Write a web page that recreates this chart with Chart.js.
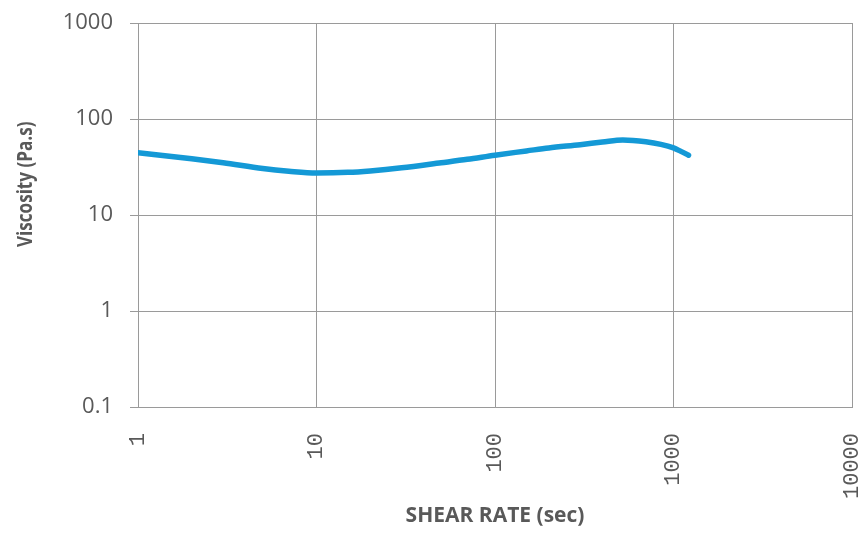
<!DOCTYPE html>
<html>
<head>
<meta charset="utf-8">
<script src="https://cdn.jsdelivr.net/npm/chart.js@4.4.1/dist/chart.umd.min.js"></script>
<style>
  html, body { margin: 0; padding: 0; background: #ffffff; }
  #wrap { width: 866px; height: 533px; position: relative; }
</style>
</head>
<body>
<div id="wrap"><canvas id="chart" width="866" height="533"></canvas></div>
<script>
// Shear rate (1/s) and measured viscosity (Pa.s)
const shearRate = [1, 2, 3, 5, 7, 10, 15, 20, 30, 50, 70, 100, 150, 200, 300, 400, 520, 700, 850, 1000, 1100, 1214];
const viscosity = [44.5, 38.5, 35, 30.5, 28.6, 27.4, 27.8, 28.8, 31, 35, 38, 42, 46.5, 50, 54, 57.5, 60.5, 58, 54.5, 50, 46, 42];

// Decade tick positions for both log axes
const xTicks = [1, 10, 100, 1000, 10000];
const xTickLabels = ['1', '10', '100', '1000', '10000'];
const yTicks = [0.1, 1, 10, 100, 1000];
const yTickLabels = ['0.1', '1', '10', '100', '1000'];

const xTitle = 'SHEAR RATE (sec)';
const yTitle = 'Viscosity (Pa.s)';

const points = shearRate.map((x, i) => ({ x: x, y: viscosity[i] }));

const gridColor = '#9a9a9a';
const textColor = '#595959';

// Vertical axis title, placed a little above the plot's vertical centre
const yTitlePlugin = {
  id: 'yTitle',
  afterDraw(chart) {
    const ctx = chart.ctx;
    const area = chart.chartArea;
    ctx.save();
    ctx.translate(26, area.top + (area.bottom - area.top) * 0.42);
    ctx.rotate(-Math.PI / 2);
    ctx.fillStyle = textColor;
    ctx.font = 'bold 19px "Open Sans"';
    ctx.textAlign = 'center';
    ctx.textBaseline = 'middle';
    ctx.scale(0.9, 1.08);
    ctx.fillText(yTitle, 0, 0);
    ctx.restore();
  }
};

new Chart(document.getElementById('chart'), {
  type: 'line',
  data: {
    datasets: [{
      data: points,
      borderColor: '#1499d6',
      borderWidth: 5.5,
      pointRadius: 0,
      fill: false,
      cubicInterpolationMode: 'monotone',
      borderCapStyle: 'round'
    }]
  },
  plugins: [yTitlePlugin],
  options: {
    responsive: false,
    animation: false,
    devicePixelRatio: 1,
    layout: { padding: { left: 0, right: 14, top: 23, bottom: 0 } },
    plugins: { legend: { display: false }, tooltip: { enabled: false } },
    scales: {
      x: {
        type: 'logarithmic',
        min: 1,
        max: 10000,
        afterBuildTicks: (scale) => { scale.ticks = xTicks.map(v => ({ value: v })); },
        afterFit: (scale) => { scale.height = 126; scale.paddingLeft = 0; scale.paddingRight = 0; },
        grid: { color: gridColor, lineWidth: 1, drawTicks: false },
        border: { color: gridColor, width: 1 },
        ticks: {
          minRotation: 90,
          maxRotation: 90,
          autoSkip: false,
          padding: 26,
          color: textColor,
          font: { family: 'Liberation Mono', size: 22 },
          callback: (v) => xTickLabels[xTicks.indexOf(v)]
        },
        title: {
          display: true,
          text: xTitle,
          color: textColor,
          font: { family: 'Open Sans', size: 21, weight: 'bold' },
          padding: { top: 0, bottom: 4 }
        }
      },
      y: {
        type: 'logarithmic',
        min: 0.1,
        max: 1000,
        afterBuildTicks: (scale) => { scale.ticks = yTicks.map(v => ({ value: v })); },
        afterFit: (scale) => { scale.width = 138; scale.paddingTop = 0; scale.paddingBottom = 0; },
        grid: { color: gridColor, lineWidth: 1, drawTicks: true, tickLength: 8 },
        border: { color: gridColor, width: 1 },
        ticks: {
          autoSkip: false,
          padding: 17,
          color: textColor,
          font: { family: 'Open Sans', size: 22 },
          callback: (v) => yTickLabels[yTicks.indexOf(v)]
        },
        title: { display: false }
      }
    }
  }
});
</script>
</body>
</html>
